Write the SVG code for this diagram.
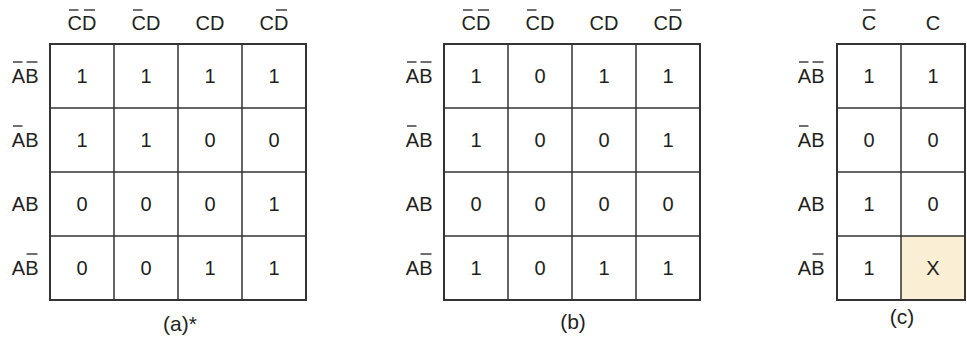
<svg xmlns="http://www.w3.org/2000/svg" width="967" height="340" viewBox="0 0 967 340">
<style>
text{font-family:"Liberation Sans",Arial,sans-serif;font-size:20px;fill:#231f20}
.c{text-anchor:middle}
.e{text-anchor:end}
.cap{font-size:21px}
.g{fill:none;stroke:#333;stroke-width:1.5}
.o{fill:none;stroke:#333;stroke-width:2}
.b{stroke:#231f20;stroke-width:1.3}
</style>
<rect width="967" height="340" fill="#fff"/>

<g id="map-a">
  <g class="headers">
    <text x="82" y="30" class="c">CD</text>
    <line class="b" x1="69" y1="10" x2="78.5" y2="10"/><line class="b" x1="84" y1="10" x2="95" y2="10"/>
    <text x="146" y="30" class="c">CD</text>
    <line class="b" x1="133" y1="10" x2="142.5" y2="10"/>
    <text x="210" y="30" class="c">CD</text>
    <text x="274" y="30" class="c">CD</text>
    <line class="b" x1="276" y1="10" x2="287" y2="10"/>
  </g>
  <g class="rows">
    <text x="38.5" y="83" class="e">AB</text>
    <line class="b" x1="13" y1="62" x2="22.5" y2="62"/><line class="b" x1="26.5" y1="62" x2="37.5" y2="62"/>
    <text x="38.5" y="147" class="e">AB</text>
    <line class="b" x1="13" y1="126" x2="22.5" y2="126"/>
    <text x="38.5" y="211" class="e">AB</text>
    <text x="38.5" y="275" class="e">AB</text>
    <line class="b" x1="26.5" y1="254" x2="37.5" y2="254"/>
  </g>
  <g class="grid">
    <path class="g" d="M114 44V300M178 44V300M242 44V300M50 108H306M50 172H306M50 236H306"/>
    <rect class="o" x="50" y="44" width="256" height="256"/>
  </g>
  <g class="values">
    <text x="82" y="83" class="c">1</text><text x="146" y="83" class="c">1</text><text x="210" y="83" class="c">1</text><text x="274" y="83" class="c">1</text>
    <text x="82" y="147" class="c">1</text><text x="146" y="147" class="c">1</text><text x="210" y="147" class="c">0</text><text x="274" y="147" class="c">0</text>
    <text x="82" y="211" class="c">0</text><text x="146" y="211" class="c">0</text><text x="210" y="211" class="c">0</text><text x="274" y="211" class="c">1</text>
    <text x="82" y="275" class="c">0</text><text x="146" y="275" class="c">0</text><text x="210" y="275" class="c">1</text><text x="274" y="275" class="c">1</text>
  </g>
  <text x="180" y="331" class="c cap">(a)*</text>
</g>

<g id="map-b">
  <g class="headers">
    <text x="476" y="30" class="c">CD</text>
    <line class="b" x1="463" y1="10" x2="472.5" y2="10"/><line class="b" x1="478" y1="10" x2="489" y2="10"/>
    <text x="540" y="30" class="c">CD</text>
    <line class="b" x1="527" y1="10" x2="536.5" y2="10"/>
    <text x="604" y="30" class="c">CD</text>
    <text x="668" y="30" class="c">CD</text>
    <line class="b" x1="670" y1="10" x2="681" y2="10"/>
  </g>
  <g class="rows">
    <text x="432.5" y="83" class="e">AB</text>
    <line class="b" x1="407" y1="62" x2="416.5" y2="62"/><line class="b" x1="420.5" y1="62" x2="431.5" y2="62"/>
    <text x="432.5" y="147" class="e">AB</text>
    <line class="b" x1="407" y1="126" x2="416.5" y2="126"/>
    <text x="432.5" y="211" class="e">AB</text>
    <text x="432.5" y="275" class="e">AB</text>
    <line class="b" x1="420.5" y1="254" x2="431.5" y2="254"/>
  </g>
  <g class="grid">
    <path class="g" d="M508 44V300M572 44V300M636 44V300M444 108H700M444 172H700M444 236H700"/>
    <rect class="o" x="444" y="44" width="256" height="256"/>
  </g>
  <g class="values">
    <text x="476" y="83" class="c">1</text><text x="540" y="83" class="c">0</text><text x="604" y="83" class="c">1</text><text x="668" y="83" class="c">1</text>
    <text x="476" y="147" class="c">1</text><text x="540" y="147" class="c">0</text><text x="604" y="147" class="c">0</text><text x="668" y="147" class="c">1</text>
    <text x="476" y="211" class="c">0</text><text x="540" y="211" class="c">0</text><text x="604" y="211" class="c">0</text><text x="668" y="211" class="c">0</text>
    <text x="476" y="275" class="c">1</text><text x="540" y="275" class="c">0</text><text x="604" y="275" class="c">1</text><text x="668" y="275" class="c">1</text>
  </g>
  <text x="573" y="329" class="c cap">(b)</text>
</g>

<g id="map-c">
  <g class="headers">
    <text x="869" y="30" class="c">C</text>
    <line class="b" x1="863" y1="10" x2="875.5" y2="10"/>
    <text x="933" y="30" class="c">C</text>
  </g>
  <g class="rows">
    <text x="824.5" y="83" class="e">AB</text>
    <line class="b" x1="799" y1="62" x2="808.5" y2="62"/><line class="b" x1="812.5" y1="62" x2="823.5" y2="62"/>
    <text x="824.5" y="147" class="e">AB</text>
    <line class="b" x1="799" y1="126" x2="808.5" y2="126"/>
    <text x="824.5" y="211" class="e">AB</text>
    <text x="824.5" y="275" class="e">AB</text>
    <line class="b" x1="812.5" y1="254" x2="823.5" y2="254"/>
  </g>
  <g class="grid">
    <rect x="901" y="236" width="64" height="64" fill="#faeed4"/>
    <path class="g" d="M901 44V300M837 108H965M837 172H965M837 236H965"/>
    <rect class="o" x="837" y="44" width="128" height="256"/>
  </g>
  <g class="values">
    <text x="869" y="83" class="c">1</text><text x="933" y="83" class="c">1</text>
    <text x="869" y="147" class="c">0</text><text x="933" y="147" class="c">0</text>
    <text x="869" y="211" class="c">1</text><text x="933" y="211" class="c">0</text>
    <text x="869" y="275" class="c">1</text><text x="933" y="275" class="c">X</text>
  </g>
  <text x="902" y="324" class="c cap">(c)</text>
</g>
</svg>
